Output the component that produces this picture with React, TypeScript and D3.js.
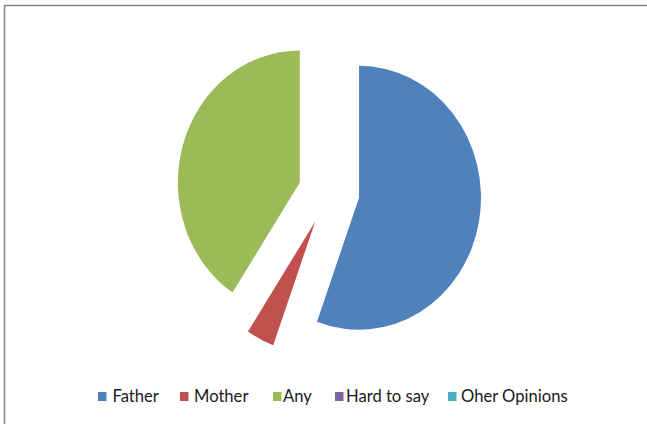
import React from "react";
import * as d3 from "d3";

const categories = ["Father", "Mother", "Any", "Hard to say", "Oher Opinions"];
const values = [55.6, 3.7, 40.7, 0, 0];
const colors = ["#4F81BD", "#C0504D", "#9BBB59", "#8064A2", "#4BACC6"];
const legendSquareX = [98, 180, 273, 335, 448];
const legendTextX = [112.5, 194, 283, 346, 461];

const W = 647;
const H = 424;
const cx = 329;
const cy = 192;
const R = 132;
const sx = 0.924;
const explode = 33;

export default function App() {
  const pie = d3
    .pie<number>()
    .sort(null)
    .value((d) => d)
    .startAngle(0)
    .endAngle(2 * Math.PI);
  const arcs = pie(values);
  const arcGen = d3.arc<d3.PieArcDatum<number>>().innerRadius(0).outerRadius(R);

  return (
    <div style={{ position: "absolute", left: 0, top: 0 }}>
      <svg width={W} height={H} style={{ display: "block", background: "#fff" }}>
        <rect x={4.5} y={5.5} width={W + 20} height={H + 20} fill="#fff" stroke="#888" strokeWidth={1.5} />
        <g transform={`translate(${cx},${cy}) scale(${sx},1)`}>
          {arcs.map((a, i) => {
            if (a.endAngle - a.startAngle <= 0) return null;
            const mid = (a.startAngle + a.endAngle) / 2;
            const dx = Math.sin(mid) * explode;
            const dy = -Math.cos(mid) * explode;
            return (
              <path
                key={categories[i]}
                d={arcGen(a) || ""}
                transform={`translate(${dx},${dy})`}
                fill={colors[i]}
              />
            );
          })}
        </g>
        <g fontFamily="Lato, 'Open Sans', sans-serif" fontSize={16.6} fill="#1a1a1a">
          {categories.map((c, i) => (
            <g key={c}>
              <rect x={legendSquareX[i]} y={392} width={8.5} height={9} fill={colors[i]} />
              <text x={legendTextX[i]} y={402.3}>
                {c}
              </text>
            </g>
          ))}
        </g>
      </svg>
    </div>
  );
}
